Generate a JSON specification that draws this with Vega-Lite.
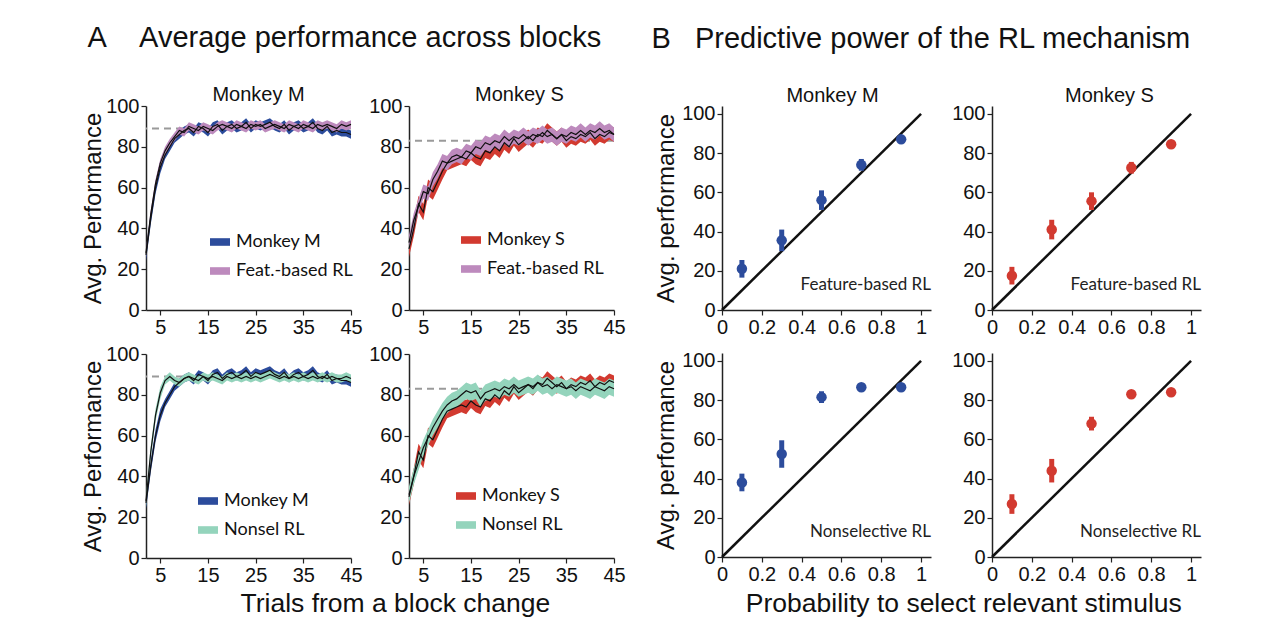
{
"$schema": "https://vega.github.io/schema/vega-lite/v6.json",
"padding": {"left": 81, "top": 24, "right": 5, "bottom": 5},
"config": {
 "font": "Liberation Sans",
 "view": {"stroke": null},
 "axis": {"grid": false, "domainColor": "#222", "domainWidth": 1.5, "tickColor": "#222", "tickWidth": 1.2, "tickSize": 5, "labelFontSize": 20, "labelColor": "#111", "labelPadding": 2, "labelFlush": false, "labelOverlap": false, "titleFontSize": 24, "titleFontWeight": "normal", "titleColor": "#111", "titlePadding": 3},
 "title": {"fontSize": 20, "fontWeight": "normal", "color": "#111", "offset": 3},
 "legend": {"symbolType": "M-1,-0.38H1V0.38H-1Z", "symbolSize": 400, "labelFontSize": 18, "labelFont": "Lato", "labelColor": "#111", "rowPadding": 10, "labelOffset": 6, "symbolStrokeWidth": 0, "symbolOpacity": 1}
},
"datasets": {
 "monkeyM": [{"t":2,"m":27,"lo":24,"hi":30},{"t":3,"m":45,"lo":42,"hi":48},{"t":4,"m":60,"lo":57,"hi":63},{"t":5,"m":70,"lo":67,"hi":73},{"t":6,"m":76,"lo":74,"hi":78},{"t":7,"m":80,"lo":78,"hi":82},{"t":8,"m":84,"lo":82,"hi":86},{"t":9,"m":86,"lo":84,"hi":88},{"t":10,"m":88,"lo":86,"hi":90},{"t":11,"m":89,"lo":87,"hi":91},{"t":12,"m":87,"lo":85,"hi":89},{"t":13,"m":90,"lo":88,"hi":92},{"t":14,"m":89,"lo":87,"hi":91},{"t":15,"m":87,"lo":85,"hi":89},{"t":16,"m":90,"lo":88,"hi":92},{"t":17,"m":91,"lo":89,"hi":93},{"t":18,"m":88,"lo":86,"hi":90},{"t":19,"m":90,"lo":88,"hi":92},{"t":20,"m":91,"lo":89,"hi":93},{"t":21,"m":89,"lo":87,"hi":91},{"t":22,"m":90,"lo":88,"hi":92},{"t":23,"m":92,"lo":90,"hi":94},{"t":24,"m":89,"lo":87,"hi":91},{"t":25,"m":91,"lo":89,"hi":93},{"t":26,"m":90,"lo":88,"hi":92},{"t":27,"m":91,"lo":89,"hi":93},{"t":28,"m":92,"lo":90,"hi":94},{"t":29,"m":90,"lo":88,"hi":92},{"t":30,"m":89,"lo":87,"hi":91},{"t":31,"m":91,"lo":89,"hi":93},{"t":32,"m":88,"lo":86,"hi":90},{"t":33,"m":90,"lo":88,"hi":92},{"t":34,"m":91,"lo":89,"hi":93},{"t":35,"m":89,"lo":87,"hi":91},{"t":36,"m":90,"lo":88,"hi":92},{"t":37,"m":92,"lo":90,"hi":94},{"t":38,"m":89,"lo":87,"hi":91},{"t":39,"m":88,"lo":86,"hi":90},{"t":40,"m":90,"lo":88,"hi":92},{"t":41,"m":87,"lo":85,"hi":89},{"t":42,"m":88,"lo":86,"hi":90},{"t":43,"m":87,"lo":85,"hi":89},{"t":44,"m":87,"lo":85,"hi":89},{"t":45,"m":86,"lo":84,"hi":88}],
 "featM": [{"t":2,"m":28,"lo":26,"hi":30},{"t":3,"m":47,"lo":45,"hi":49},{"t":4,"m":62,"lo":60,"hi":64},{"t":5,"m":72,"lo":70,"hi":74},{"t":6,"m":78,"lo":76,"hi":80},{"t":7,"m":82,"lo":80,"hi":84},{"t":8,"m":85,"lo":83,"hi":87},{"t":9,"m":88,"lo":86,"hi":90},{"t":10,"m":87,"lo":85,"hi":89},{"t":11,"m":90,"lo":88,"hi":92},{"t":12,"m":89,"lo":87,"hi":91},{"t":13,"m":88,"lo":86,"hi":90},{"t":14,"m":90,"lo":88,"hi":92},{"t":15,"m":89,"lo":87,"hi":91},{"t":16,"m":88,"lo":86,"hi":90},{"t":17,"m":90,"lo":88,"hi":92},{"t":18,"m":91,"lo":89,"hi":93},{"t":19,"m":90,"lo":88,"hi":92},{"t":20,"m":89,"lo":87,"hi":91},{"t":21,"m":91,"lo":89,"hi":93},{"t":22,"m":90,"lo":88,"hi":92},{"t":23,"m":89,"lo":87,"hi":91},{"t":24,"m":91,"lo":89,"hi":93},{"t":25,"m":90,"lo":88,"hi":92},{"t":26,"m":91,"lo":89,"hi":93},{"t":27,"m":89,"lo":87,"hi":91},{"t":28,"m":90,"lo":88,"hi":92},{"t":29,"m":91,"lo":89,"hi":93},{"t":30,"m":90,"lo":88,"hi":92},{"t":31,"m":89,"lo":87,"hi":91},{"t":32,"m":91,"lo":89,"hi":93},{"t":33,"m":90,"lo":88,"hi":92},{"t":34,"m":89,"lo":87,"hi":91},{"t":35,"m":91,"lo":89,"hi":93},{"t":36,"m":90,"lo":88,"hi":92},{"t":37,"m":89,"lo":87,"hi":91},{"t":38,"m":91,"lo":89,"hi":93},{"t":39,"m":90,"lo":88,"hi":92},{"t":40,"m":91,"lo":89,"hi":93},{"t":41,"m":90,"lo":88,"hi":92},{"t":42,"m":89,"lo":87,"hi":91},{"t":43,"m":91,"lo":89,"hi":93},{"t":44,"m":90,"lo":88,"hi":92},{"t":45,"m":91,"lo":89,"hi":93}],
 "nonselM": [{"t":2,"m":28,"lo":25,"hi":31},{"t":3,"m":52,"lo":49,"hi":55},{"t":4,"m":70,"lo":67,"hi":73},{"t":5,"m":81,"lo":78,"hi":84},{"t":6,"m":87,"lo":85,"hi":89},{"t":7,"m":89,"lo":87,"hi":91},{"t":8,"m":87,"lo":85,"hi":89},{"t":9,"m":86,"lo":84,"hi":88},{"t":10,"m":88,"lo":86,"hi":90},{"t":11,"m":89,"lo":87,"hi":91},{"t":12,"m":88,"lo":86,"hi":90},{"t":13,"m":87,"lo":85,"hi":89},{"t":14,"m":89,"lo":87,"hi":91},{"t":15,"m":88,"lo":86,"hi":90},{"t":16,"m":89,"lo":87,"hi":91},{"t":17,"m":88,"lo":86,"hi":90},{"t":18,"m":87,"lo":85,"hi":89},{"t":19,"m":89,"lo":87,"hi":91},{"t":20,"m":88,"lo":86,"hi":90},{"t":21,"m":89,"lo":87,"hi":91},{"t":22,"m":88,"lo":86,"hi":90},{"t":23,"m":89,"lo":87,"hi":91},{"t":24,"m":88,"lo":86,"hi":90},{"t":25,"m":89,"lo":87,"hi":91},{"t":26,"m":88,"lo":86,"hi":90},{"t":27,"m":89,"lo":87,"hi":91},{"t":28,"m":90,"lo":88,"hi":92},{"t":29,"m":89,"lo":87,"hi":91},{"t":30,"m":88,"lo":86,"hi":90},{"t":31,"m":89,"lo":87,"hi":91},{"t":32,"m":88,"lo":86,"hi":90},{"t":33,"m":89,"lo":87,"hi":91},{"t":34,"m":88,"lo":86,"hi":90},{"t":35,"m":89,"lo":87,"hi":91},{"t":36,"m":88,"lo":86,"hi":90},{"t":37,"m":89,"lo":87,"hi":91},{"t":38,"m":88,"lo":86,"hi":90},{"t":39,"m":89,"lo":87,"hi":91},{"t":40,"m":88,"lo":86,"hi":90},{"t":41,"m":89,"lo":87,"hi":91},{"t":42,"m":88,"lo":86,"hi":90},{"t":43,"m":88,"lo":86,"hi":90},{"t":44,"m":89,"lo":87,"hi":91},{"t":45,"m":88,"lo":86,"hi":90}],
 "monkeyS": [{"t":2,"m":30,"lo":26,"hi":34},{"t":3,"m":40,"lo":36,"hi":44},{"t":4,"m":52,"lo":48,"hi":56},{"t":5,"m":48,"lo":44,"hi":52},{"t":6,"m":60,"lo":56,"hi":64},{"t":7,"m":58,"lo":54,"hi":62},{"t":8,"m":63,"lo":59,"hi":67},{"t":9,"m":68,"lo":64,"hi":72},{"t":10,"m":72,"lo":68.5,"hi":75.5},{"t":11,"m":73,"lo":69.5,"hi":76.5},{"t":12,"m":74,"lo":70.5,"hi":77.5},{"t":13,"m":75,"lo":71.5,"hi":78.5},{"t":14,"m":74,"lo":70.5,"hi":77.5},{"t":15,"m":77,"lo":73.5,"hi":80.5},{"t":16,"m":75,"lo":71.5,"hi":78.5},{"t":17,"m":74,"lo":70.5,"hi":77.5},{"t":18,"m":78,"lo":74.5,"hi":81.5},{"t":19,"m":77,"lo":73.5,"hi":80.5},{"t":20,"m":80,"lo":76.5,"hi":83.5},{"t":21,"m":78,"lo":74.5,"hi":81.5},{"t":22,"m":82,"lo":78.5,"hi":85.5},{"t":23,"m":80,"lo":76.5,"hi":83.5},{"t":24,"m":84,"lo":80.5,"hi":87.5},{"t":25,"m":81,"lo":77.5,"hi":84.5},{"t":26,"m":83,"lo":79.5,"hi":86.5},{"t":27,"m":85,"lo":81.5,"hi":88.5},{"t":28,"m":83,"lo":79.5,"hi":86.5},{"t":29,"m":86,"lo":82.5,"hi":89.5},{"t":30,"m":85,"lo":81.5,"hi":88.5},{"t":31,"m":88,"lo":84.5,"hi":91.5},{"t":32,"m":86,"lo":82.5,"hi":89.5},{"t":33,"m":84,"lo":80.5,"hi":87.5},{"t":34,"m":86,"lo":82.5,"hi":89.5},{"t":35,"m":83,"lo":79.5,"hi":86.5},{"t":36,"m":85,"lo":81.5,"hi":88.5},{"t":37,"m":84,"lo":80.5,"hi":87.5},{"t":38,"m":86,"lo":82.5,"hi":89.5},{"t":39,"m":85,"lo":81.5,"hi":88.5},{"t":40,"m":87,"lo":83.5,"hi":90.5},{"t":41,"m":84,"lo":80.5,"hi":87.5},{"t":42,"m":86,"lo":82.5,"hi":89.5},{"t":43,"m":85,"lo":81.5,"hi":88.5},{"t":44,"m":87,"lo":83.5,"hi":90.5},{"t":45,"m":86,"lo":82.5,"hi":89.5}],
 "featS": [{"t":2,"m":33,"lo":29.5,"hi":36.5},{"t":3,"m":44,"lo":40.5,"hi":47.5},{"t":4,"m":51,"lo":47.5,"hi":54.5},{"t":5,"m":58,"lo":54.5,"hi":61.5},{"t":6,"m":57,"lo":53.5,"hi":60.5},{"t":7,"m":64,"lo":60.5,"hi":67.5},{"t":8,"m":68,"lo":64.5,"hi":71.5},{"t":9,"m":73,"lo":69.5,"hi":76.5},{"t":10,"m":72,"lo":68.5,"hi":75.5},{"t":11,"m":75,"lo":71.5,"hi":78.5},{"t":12,"m":76,"lo":72.5,"hi":79.5},{"t":13,"m":75,"lo":71.5,"hi":78.5},{"t":14,"m":78,"lo":74.5,"hi":81.5},{"t":15,"m":77,"lo":73.5,"hi":80.5},{"t":16,"m":80,"lo":76.5,"hi":83.5},{"t":17,"m":79,"lo":75.5,"hi":82.5},{"t":18,"m":82,"lo":78.5,"hi":85.5},{"t":19,"m":81,"lo":77.5,"hi":84.5},{"t":20,"m":83,"lo":79.5,"hi":86.5},{"t":21,"m":82,"lo":78.5,"hi":85.5},{"t":22,"m":85,"lo":81.5,"hi":88.5},{"t":23,"m":83,"lo":79.5,"hi":86.5},{"t":24,"m":85,"lo":81.5,"hi":88.5},{"t":25,"m":84,"lo":80.5,"hi":87.5},{"t":26,"m":86,"lo":82.5,"hi":89.5},{"t":27,"m":84,"lo":80.5,"hi":87.5},{"t":28,"m":86,"lo":82.5,"hi":89.5},{"t":29,"m":85,"lo":81.5,"hi":88.5},{"t":30,"m":87,"lo":83.5,"hi":90.5},{"t":31,"m":85,"lo":81.5,"hi":88.5},{"t":32,"m":86,"lo":82.5,"hi":89.5},{"t":33,"m":84,"lo":80.5,"hi":87.5},{"t":34,"m":86,"lo":82.5,"hi":89.5},{"t":35,"m":85,"lo":81.5,"hi":88.5},{"t":36,"m":87,"lo":83.5,"hi":90.5},{"t":37,"m":86,"lo":82.5,"hi":89.5},{"t":38,"m":88,"lo":84.5,"hi":91.5},{"t":39,"m":86,"lo":82.5,"hi":89.5},{"t":40,"m":88,"lo":84.5,"hi":91.5},{"t":41,"m":87,"lo":83.5,"hi":90.5},{"t":42,"m":89,"lo":85.5,"hi":92.5},{"t":43,"m":87,"lo":83.5,"hi":90.5},{"t":44,"m":88,"lo":84.5,"hi":91.5},{"t":45,"m":86,"lo":82.5,"hi":89.5}],
 "nonselS": [{"t":2,"m":31,"lo":27,"hi":35},{"t":3,"m":40,"lo":36,"hi":44},{"t":4,"m":47,"lo":43,"hi":51},{"t":5,"m":54,"lo":50,"hi":58},{"t":6,"m":59,"lo":55,"hi":63},{"t":7,"m":64,"lo":60,"hi":68},{"t":8,"m":68,"lo":64,"hi":72},{"t":9,"m":72,"lo":68,"hi":76},{"t":10,"m":75,"lo":71,"hi":79},{"t":11,"m":77,"lo":73,"hi":81},{"t":12,"m":78,"lo":74,"hi":82},{"t":13,"m":80,"lo":76,"hi":84},{"t":14,"m":82,"lo":78,"hi":86},{"t":15,"m":81,"lo":77,"hi":85},{"t":16,"m":82,"lo":78,"hi":86},{"t":17,"m":78,"lo":74,"hi":82},{"t":18,"m":81,"lo":77,"hi":85},{"t":19,"m":82,"lo":78,"hi":86},{"t":20,"m":83,"lo":79,"hi":87},{"t":21,"m":82,"lo":78,"hi":86},{"t":22,"m":84,"lo":80,"hi":88},{"t":23,"m":83,"lo":79,"hi":87},{"t":24,"m":85,"lo":81,"hi":89},{"t":25,"m":83,"lo":79,"hi":87},{"t":26,"m":84,"lo":80,"hi":88},{"t":27,"m":85,"lo":81,"hi":89},{"t":28,"m":84,"lo":80,"hi":88},{"t":29,"m":86,"lo":82,"hi":90},{"t":30,"m":84,"lo":80,"hi":88},{"t":31,"m":85,"lo":81,"hi":89},{"t":32,"m":83,"lo":79,"hi":87},{"t":33,"m":85,"lo":81,"hi":89},{"t":34,"m":84,"lo":80,"hi":88},{"t":35,"m":83,"lo":79,"hi":87},{"t":36,"m":84,"lo":80,"hi":88},{"t":37,"m":82,"lo":78,"hi":86},{"t":38,"m":84,"lo":80,"hi":88},{"t":39,"m":83,"lo":79,"hi":87},{"t":40,"m":82,"lo":78,"hi":86},{"t":41,"m":84,"lo":80,"hi":88},{"t":42,"m":83,"lo":79,"hi":87},{"t":43,"m":82,"lo":78,"hi":86},{"t":44,"m":84,"lo":80,"hi":88},{"t":45,"m":83,"lo":79,"hi":87}],
 "pts": [{"panel":"MF","p":0.1,"perf":21,"lo":16.5,"hi":25.5},{"panel":"MF","p":0.3,"perf":35.5,"lo":30,"hi":41},{"panel":"MF","p":0.5,"perf":56,"lo":51,"hi":61},{"panel":"MF","p":0.7,"perf":74,"lo":71,"hi":77},{"panel":"MF","p":0.9,"perf":87,"lo":85.5,"hi":88.5},{"panel":"SF","p":0.1,"perf":17.5,"lo":13,"hi":22},{"panel":"SF","p":0.3,"perf":41,"lo":36,"hi":46},{"panel":"SF","p":0.5,"perf":55.5,"lo":51,"hi":60},{"panel":"SF","p":0.7,"perf":72.5,"lo":69.5,"hi":75.5},{"panel":"SF","p":0.9,"perf":84.5,"lo":83.5,"hi":85.5},{"panel":"MN","p":0.1,"perf":38,"lo":33.5,"hi":42.5},{"panel":"MN","p":0.3,"perf":52.5,"lo":45.5,"hi":59.5},{"panel":"MN","p":0.5,"perf":81.5,"lo":78.5,"hi":84.5},{"panel":"MN","p":0.7,"perf":86.5,"lo":85.5,"hi":87.5},{"panel":"MN","p":0.9,"perf":86.5,"lo":85.5,"hi":87.5},{"panel":"SN","p":0.1,"perf":27,"lo":22,"hi":32},{"panel":"SN","p":0.3,"perf":44,"lo":38,"hi":50},{"panel":"SN","p":0.5,"perf":68,"lo":64.5,"hi":71.5},{"panel":"SN","p":0.7,"perf":83,"lo":82,"hi":84},{"panel":"SN","p":0.9,"perf":84,"lo":83,"hi":85}],
 "diag": [{"p":0,"perf":0},{"p":1,"perf":100}]
},
"resolve": {"scale": {"color": "independent"}},
"spacing": 24,
"center": false,
"hconcat": [
 {
  "title": {"text": "A\u00a0\u00a0\u00a0\u00a0Average performance across blocks", "fontSize": 29, "anchor": "middle", "offset": 32, "dx": -9},
  "resolve": {"scale": {"color": "independent"}},
  "vconcat": [
   {
    "title": {"text": "Trials from a block change", "orient": "bottom", "fontSize": 26.5, "anchor": "middle", "offset": 6, "dx": 42},
    "resolve": {"scale": {"color": "independent"}},
    "spacing": 7,
    "vconcat": [
     {
      "resolve": {"scale": {"color": "independent"}},
      "spacing": 5,
      "hconcat": [
       {
        "width": 205, "height": 204, "title": {"text": "Monkey M", "offset": -9, "dx": 10},
        "layer": [
         {"data": {"values": [{"v": 89}]}, "mark": {"type": "rule", "color": "#9a9a9a", "strokeWidth": 2, "strokeDash": [7, 5]},
          "encoding": {"y": {"field": "v", "type": "quantitative", "scale": {"domain": [0, 100]}, "title": "Avg. Performance", "axis": {"values": [0, 20, 40, 60, 80, 100], "titlePadding": 0}}}},
         {"data": {"name": "monkeyM"}, "mark": {"type": "area", "opacity": 1},
          "encoding": {"x": {"field": "t", "type": "quantitative", "scale": {"domain": [2, 45], "nice": false}, "title": null, "axis": {"values": [5, 10, 15, 20, 25, 30, 35, 40, 45], "labelExpr": "datum.value % 10 == 5 ? datum.label : ''"}},
           "y": {"field": "lo", "type": "quantitative", "scale": {"domain": [0, 100]}, "title": "Avg. Performance"}, "y2": {"field": "hi"},
           "color": {"datum": "Monkey M", "type": "nominal", "scale": {"domain": ["Monkey M", "Feat.-based RL"], "range": ["#2c4c9c", "#bd8abd"]}, "legend": {"orient": "none", "legendX": 64, "legendY": 126, "title": null}}}},
         {"data": {"name": "featM"}, "mark": {"type": "area", "opacity": 1},
          "encoding": {"x": {"field": "t", "type": "quantitative", "scale": {"domain": [2, 45], "nice": false}, "title": null},
           "y": {"field": "lo", "type": "quantitative", "scale": {"domain": [0, 100]}, "title": "Avg. Performance"}, "y2": {"field": "hi"},
           "color": {"datum": "Feat.-based RL", "type": "nominal"}}},
         {"data": {"name": "monkeyM"}, "mark": {"type": "line", "color": "#111", "strokeWidth": 1.2},
          "encoding": {"x": {"field": "t", "type": "quantitative", "scale": {"domain": [2, 45], "nice": false}, "title": null}, "y": {"field": "m", "type": "quantitative", "scale": {"domain": [0, 100]}, "title": "Avg. Performance"}}},
         {"data": {"name": "featM"}, "mark": {"type": "line", "color": "#111", "strokeWidth": 1.2},
          "encoding": {"x": {"field": "t", "type": "quantitative", "scale": {"domain": [2, 45], "nice": false}, "title": null}, "y": {"field": "m", "type": "quantitative", "scale": {"domain": [0, 100]}, "title": "Avg. Performance"}}}
        ]
       },
       {
        "width": 205, "height": 204, "title": {"text": "Monkey S", "offset": -9, "dx": 8},
        "layer": [
         {"data": {"values": [{"v": 83}]}, "mark": {"type": "rule", "color": "#9a9a9a", "strokeWidth": 2, "strokeDash": [7, 5]},
          "encoding": {"y": {"field": "v", "type": "quantitative", "scale": {"domain": [0, 100]}, "title": null, "axis": {"values": [0, 20, 40, 60, 80, 100]}}}},
         {"data": {"name": "monkeyS"}, "mark": {"type": "area", "opacity": 1},
          "encoding": {"x": {"field": "t", "type": "quantitative", "scale": {"domain": [2, 45], "nice": false}, "title": null, "axis": {"values": [5, 10, 15, 20, 25, 30, 35, 40, 45], "labelExpr": "datum.value % 10 == 5 ? datum.label : ''"}},
           "y": {"field": "lo", "type": "quantitative", "scale": {"domain": [0, 100]}, "title": null}, "y2": {"field": "hi"},
           "color": {"datum": "Monkey S", "type": "nominal", "scale": {"domain": ["Monkey S", "Feat.-based RL"], "range": ["#d23a30", "#bd8abd"]}, "legend": {"orient": "none", "legendX": 52, "legendY": 124, "title": null}}}},
         {"data": {"name": "featS"}, "mark": {"type": "area", "opacity": 1},
          "encoding": {"x": {"field": "t", "type": "quantitative", "scale": {"domain": [2, 45], "nice": false}, "title": null},
           "y": {"field": "lo", "type": "quantitative", "scale": {"domain": [0, 100]}, "title": null}, "y2": {"field": "hi"},
           "color": {"datum": "Feat.-based RL", "type": "nominal"}}},
         {"data": {"name": "monkeyS"}, "mark": {"type": "line", "color": "#111", "strokeWidth": 1.2},
          "encoding": {"x": {"field": "t", "type": "quantitative", "scale": {"domain": [2, 45], "nice": false}, "title": null}, "y": {"field": "m", "type": "quantitative", "scale": {"domain": [0, 100]}, "title": null}}},
         {"data": {"name": "featS"}, "mark": {"type": "line", "color": "#111", "strokeWidth": 1.2},
          "encoding": {"x": {"field": "t", "type": "quantitative", "scale": {"domain": [2, 45], "nice": false}, "title": null}, "y": {"field": "m", "type": "quantitative", "scale": {"domain": [0, 100]}, "title": null}}}
        ]
       }
      ]
     },
     {
      "resolve": {"scale": {"color": "independent"}},
      "spacing": 5,
      "hconcat": [
       {
        "width": 205, "height": 204,
        "layer": [
         {"data": {"values": [{"v": 89}]}, "mark": {"type": "rule", "color": "#9a9a9a", "strokeWidth": 2, "strokeDash": [7, 5]},
          "encoding": {"y": {"field": "v", "type": "quantitative", "scale": {"domain": [0, 100]}, "title": "Avg. Performance", "axis": {"values": [0, 20, 40, 60, 80, 100], "titlePadding": 0}}}},
         {"data": {"name": "monkeyM"}, "mark": {"type": "area", "opacity": 1},
          "encoding": {"x": {"field": "t", "type": "quantitative", "scale": {"domain": [2, 45], "nice": false}, "title": null, "axis": {"values": [5, 10, 15, 20, 25, 30, 35, 40, 45], "labelExpr": "datum.value % 10 == 5 ? datum.label : ''"}},
           "y": {"field": "lo", "type": "quantitative", "scale": {"domain": [0, 100]}, "title": "Avg. Performance"}, "y2": {"field": "hi"},
           "color": {"datum": "Monkey M", "type": "nominal", "scale": {"domain": ["Monkey M", "Nonsel RL"], "range": ["#2c4c9c", "#94d4bc"]}, "legend": {"orient": "none", "legendX": 52, "legendY": 137, "title": null}}}},
         {"data": {"name": "nonselM"}, "mark": {"type": "area", "opacity": 1},
          "encoding": {"x": {"field": "t", "type": "quantitative", "scale": {"domain": [2, 45], "nice": false}, "title": null},
           "y": {"field": "lo", "type": "quantitative", "scale": {"domain": [0, 100]}, "title": "Avg. Performance"}, "y2": {"field": "hi"},
           "color": {"datum": "Nonsel RL", "type": "nominal"}}},
         {"data": {"name": "monkeyM"}, "mark": {"type": "line", "color": "#111", "strokeWidth": 1.2},
          "encoding": {"x": {"field": "t", "type": "quantitative", "scale": {"domain": [2, 45], "nice": false}, "title": null}, "y": {"field": "m", "type": "quantitative", "scale": {"domain": [0, 100]}, "title": "Avg. Performance"}}},
         {"data": {"name": "nonselM"}, "mark": {"type": "line", "color": "#111", "strokeWidth": 1.2},
          "encoding": {"x": {"field": "t", "type": "quantitative", "scale": {"domain": [2, 45], "nice": false}, "title": null}, "y": {"field": "m", "type": "quantitative", "scale": {"domain": [0, 100]}, "title": "Avg. Performance"}}}
        ]
       },
       {
        "width": 205, "height": 204,
        "layer": [
         {"data": {"values": [{"v": 83}]}, "mark": {"type": "rule", "color": "#9a9a9a", "strokeWidth": 2, "strokeDash": [7, 5]},
          "encoding": {"y": {"field": "v", "type": "quantitative", "scale": {"domain": [0, 100]}, "title": null, "axis": {"values": [0, 20, 40, 60, 80, 100]}}}},
         {"data": {"name": "monkeyS"}, "mark": {"type": "area", "opacity": 1},
          "encoding": {"x": {"field": "t", "type": "quantitative", "scale": {"domain": [2, 45], "nice": false}, "title": null, "axis": {"values": [5, 10, 15, 20, 25, 30, 35, 40, 45], "labelExpr": "datum.value % 10 == 5 ? datum.label : ''"}},
           "y": {"field": "lo", "type": "quantitative", "scale": {"domain": [0, 100]}, "title": null}, "y2": {"field": "hi"},
           "color": {"datum": "Monkey S", "type": "nominal", "scale": {"domain": ["Monkey S", "Nonsel RL"], "range": ["#d23a30", "#94d4bc"]}, "legend": {"orient": "none", "legendX": 47, "legendY": 132, "title": null}}}},
         {"data": {"name": "nonselS"}, "mark": {"type": "area", "opacity": 1},
          "encoding": {"x": {"field": "t", "type": "quantitative", "scale": {"domain": [2, 45], "nice": false}, "title": null},
           "y": {"field": "lo", "type": "quantitative", "scale": {"domain": [0, 100]}, "title": null}, "y2": {"field": "hi"},
           "color": {"datum": "Nonsel RL", "type": "nominal"}}},
         {"data": {"name": "monkeyS"}, "mark": {"type": "line", "color": "#111", "strokeWidth": 1.2},
          "encoding": {"x": {"field": "t", "type": "quantitative", "scale": {"domain": [2, 45], "nice": false}, "title": null}, "y": {"field": "m", "type": "quantitative", "scale": {"domain": [0, 100]}, "title": null}}},
         {"data": {"name": "nonselS"}, "mark": {"type": "line", "color": "#111", "strokeWidth": 1.2},
          "encoding": {"x": {"field": "t", "type": "quantitative", "scale": {"domain": [2, 45], "nice": false}, "title": null}, "y": {"field": "m", "type": "quantitative", "scale": {"domain": [0, 100]}, "title": null}}}
        ]
       }
      ]
     }
    ]
   }
  ]
 },
 {
  "title": {"text": "B\u00a0\u00a0\u00a0Predictive power of the RL mechanism", "fontSize": 29, "anchor": "middle", "offset": 32, "dx": -7},
  "resolve": {"scale": {"color": "independent"}},
  "vconcat": [
   {
    "title": {"text": "Probability to select relevant stimulus", "orient": "bottom", "fontSize": 26.5, "anchor": "middle", "offset": 7, "dx": 36},
    "resolve": {"scale": {"color": "independent"}},
    "spacing": 13,
    "vconcat": [
     {
      "resolve": {"scale": {"color": "independent"}},
      "spacing": 20,
      "hconcat": [
       {
        "width": 209, "height": 204, "title": {"text": "Monkey M", "offset": -2, "dx": 6},
        "layer": [
         {"data": {"name": "diag"}, "mark": {"type": "line", "color": "#111", "strokeWidth": 2.5},
          "encoding": {"x": {"field": "p", "type": "quantitative", "scale": {"domain": [0, 1.05], "nice": false}, "title": null, "axis": {"values": [0, 0.1, 0.2, 0.3, 0.4, 0.5, 0.6, 0.7, 0.8, 0.9, 1], "format": "~g", "labelExpr": "round(datum.value*10) % 2 == 0 ? datum.label : ''"}},
           "y": {"field": "perf", "type": "quantitative", "scale": {"domain": [0, 104], "nice": false}, "title": "Avg. performance", "axis": {"values": [0, 10, 20, 30, 40, 50, 60, 70, 80, 90, 100], "labelExpr": "datum.value % 20 == 0 ? datum.label : ''"}}}},
         {"data": {"name": "pts"}, "transform": [{"filter": "datum.panel == 'MF'"}], "mark": {"type": "rule", "color": "#2c4c9c", "strokeWidth": 5},
          "encoding": {"x": {"field": "p", "type": "quantitative", "scale": {"domain": [0, 1.05], "nice": false}, "title": null}, "y": {"field": "lo", "type": "quantitative", "scale": {"domain": [0, 104], "nice": false}, "title": "Avg. performance"}, "y2": {"field": "hi"}}},
         {"data": {"name": "pts"}, "transform": [{"filter": "datum.panel == 'MF'"}], "mark": {"type": "point", "filled": true, "size": 110, "color": "#2c4c9c", "opacity": 1},
          "encoding": {"x": {"field": "p", "type": "quantitative", "scale": {"domain": [0, 1.05], "nice": false}, "title": null}, "y": {"field": "perf", "type": "quantitative", "scale": {"domain": [0, 104], "nice": false}, "title": "Avg. performance"}}},
         {"data": {"values": [{}]}, "mark": {"type": "text", "align": "right", "baseline": "middle", "font": "Lato", "fontSize": 17, "color": "#222"},
          "encoding": {"x": {"datum": 1.05, "type": "quantitative"}, "y": {"datum": 13, "type": "quantitative"}, "text": {"value": "Feature-based RL"}}}
        ]
       },
       {
        "width": 209, "height": 204, "title": {"text": "Monkey S", "offset": -2, "dx": 13},
        "layer": [
         {"data": {"name": "diag"}, "mark": {"type": "line", "color": "#111", "strokeWidth": 2.5},
          "encoding": {"x": {"field": "p", "type": "quantitative", "scale": {"domain": [0, 1.05], "nice": false}, "title": null, "axis": {"values": [0, 0.1, 0.2, 0.3, 0.4, 0.5, 0.6, 0.7, 0.8, 0.9, 1], "format": "~g", "labelExpr": "round(datum.value*10) % 2 == 0 ? datum.label : ''"}},
           "y": {"field": "perf", "type": "quantitative", "scale": {"domain": [0, 104], "nice": false}, "title": null, "axis": {"values": [0, 10, 20, 30, 40, 50, 60, 70, 80, 90, 100], "labelExpr": "datum.value % 20 == 0 ? datum.label : ''"}}}},
         {"data": {"name": "pts"}, "transform": [{"filter": "datum.panel == 'SF'"}], "mark": {"type": "rule", "color": "#d23a30", "strokeWidth": 5},
          "encoding": {"x": {"field": "p", "type": "quantitative", "scale": {"domain": [0, 1.05], "nice": false}, "title": null}, "y": {"field": "lo", "type": "quantitative", "scale": {"domain": [0, 104], "nice": false}, "title": null}, "y2": {"field": "hi"}}},
         {"data": {"name": "pts"}, "transform": [{"filter": "datum.panel == 'SF'"}], "mark": {"type": "point", "filled": true, "size": 110, "color": "#d23a30", "opacity": 1},
          "encoding": {"x": {"field": "p", "type": "quantitative", "scale": {"domain": [0, 1.05], "nice": false}, "title": null}, "y": {"field": "perf", "type": "quantitative", "scale": {"domain": [0, 104], "nice": false}, "title": null}}},
         {"data": {"values": [{}]}, "mark": {"type": "text", "align": "right", "baseline": "middle", "font": "Lato", "fontSize": 17, "color": "#222"},
          "encoding": {"x": {"datum": 1.05, "type": "quantitative"}, "y": {"datum": 13, "type": "quantitative"}, "text": {"value": "Feature-based RL"}}}
        ]
       }
      ]
     },
     {
      "resolve": {"scale": {"color": "independent"}},
      "spacing": 20,
      "hconcat": [
       {
        "width": 209, "height": 204,
        "layer": [
         {"data": {"name": "diag"}, "mark": {"type": "line", "color": "#111", "strokeWidth": 2.5},
          "encoding": {"x": {"field": "p", "type": "quantitative", "scale": {"domain": [0, 1.05], "nice": false}, "title": null, "axis": {"values": [0, 0.1, 0.2, 0.3, 0.4, 0.5, 0.6, 0.7, 0.8, 0.9, 1], "format": "~g", "labelExpr": "round(datum.value*10) % 2 == 0 ? datum.label : ''"}},
           "y": {"field": "perf", "type": "quantitative", "scale": {"domain": [0, 104], "nice": false}, "title": "Avg. performance", "axis": {"values": [0, 10, 20, 30, 40, 50, 60, 70, 80, 90, 100], "labelExpr": "datum.value % 20 == 0 ? datum.label : ''"}}}},
         {"data": {"name": "pts"}, "transform": [{"filter": "datum.panel == 'MN'"}], "mark": {"type": "rule", "color": "#2c4c9c", "strokeWidth": 5},
          "encoding": {"x": {"field": "p", "type": "quantitative", "scale": {"domain": [0, 1.05], "nice": false}, "title": null}, "y": {"field": "lo", "type": "quantitative", "scale": {"domain": [0, 104], "nice": false}, "title": "Avg. performance"}, "y2": {"field": "hi"}}},
         {"data": {"name": "pts"}, "transform": [{"filter": "datum.panel == 'MN'"}], "mark": {"type": "point", "filled": true, "size": 110, "color": "#2c4c9c", "opacity": 1},
          "encoding": {"x": {"field": "p", "type": "quantitative", "scale": {"domain": [0, 1.05], "nice": false}, "title": null}, "y": {"field": "perf", "type": "quantitative", "scale": {"domain": [0, 104], "nice": false}, "title": "Avg. performance"}}},
         {"data": {"values": [{}]}, "mark": {"type": "text", "align": "right", "baseline": "middle", "font": "Lato", "fontSize": 17, "color": "#222"},
          "encoding": {"x": {"datum": 1.05, "type": "quantitative"}, "y": {"datum": 13, "type": "quantitative"}, "text": {"value": "Nonselective RL"}}}
        ]
       },
       {
        "width": 209, "height": 204,
        "layer": [
         {"data": {"name": "diag"}, "mark": {"type": "line", "color": "#111", "strokeWidth": 2.5},
          "encoding": {"x": {"field": "p", "type": "quantitative", "scale": {"domain": [0, 1.05], "nice": false}, "title": null, "axis": {"values": [0, 0.1, 0.2, 0.3, 0.4, 0.5, 0.6, 0.7, 0.8, 0.9, 1], "format": "~g", "labelExpr": "round(datum.value*10) % 2 == 0 ? datum.label : ''"}},
           "y": {"field": "perf", "type": "quantitative", "scale": {"domain": [0, 104], "nice": false}, "title": null, "axis": {"values": [0, 10, 20, 30, 40, 50, 60, 70, 80, 90, 100], "labelExpr": "datum.value % 20 == 0 ? datum.label : ''"}}}},
         {"data": {"name": "pts"}, "transform": [{"filter": "datum.panel == 'SN'"}], "mark": {"type": "rule", "color": "#d23a30", "strokeWidth": 5},
          "encoding": {"x": {"field": "p", "type": "quantitative", "scale": {"domain": [0, 1.05], "nice": false}, "title": null}, "y": {"field": "lo", "type": "quantitative", "scale": {"domain": [0, 104], "nice": false}, "title": null}, "y2": {"field": "hi"}}},
         {"data": {"name": "pts"}, "transform": [{"filter": "datum.panel == 'SN'"}], "mark": {"type": "point", "filled": true, "size": 110, "color": "#d23a30", "opacity": 1},
          "encoding": {"x": {"field": "p", "type": "quantitative", "scale": {"domain": [0, 1.05], "nice": false}, "title": null}, "y": {"field": "perf", "type": "quantitative", "scale": {"domain": [0, 104], "nice": false}, "title": null}}},
         {"data": {"values": [{}]}, "mark": {"type": "text", "align": "right", "baseline": "middle", "font": "Lato", "fontSize": 17, "color": "#222"},
          "encoding": {"x": {"datum": 1.05, "type": "quantitative"}, "y": {"datum": 13, "type": "quantitative"}, "text": {"value": "Nonselective RL"}}}
        ]
       }
      ]
     }
    ]
   }
  ]
 }
]
}
